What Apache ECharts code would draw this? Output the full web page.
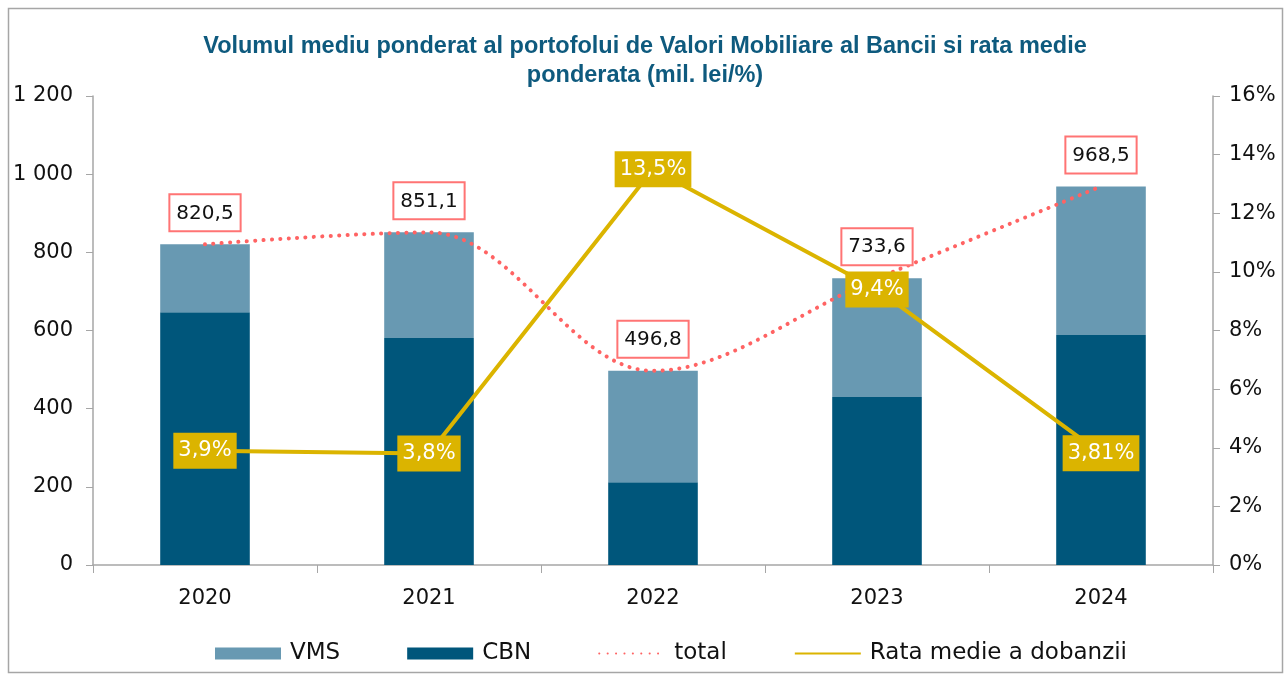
<!DOCTYPE html>
<html>
<head>
<meta charset="utf-8">
<script src="https://cdn.jsdelivr.net/npm/echarts@6/dist/echarts.min.js"></script>
<style>
  html, body { margin: 0; padding: 0; background: #fff; }
  #chart { width: 1287px; height: 677px; }
</style>
</head>
<body>
<div id="chart"></div>
<script>
var years = ['2020', '2021', '2022', '2023', '2024'];
var cbn = [647, 581, 212, 430, 588.5];
var vms = [173.5, 270.1, 284.8, 303.6, 380];
var total = [820.5, 851.1, 496.8, 733.6, 968.5];
var rate = [3.9, 3.8, 13.5, 9.4, 3.81];
var rateText = ['3,9%', '3,8%', '13,5%', '9,4%', '3,81%'];

var font = '"DejaVu Sans", "Noto Sans", sans-serif';
var chart = echarts.init(document.getElementById('chart'));

var option = {
    animation: false,
    backgroundColor: '#fff',
    textStyle: { fontFamily: font },
    title: {
        text: 'Volumul mediu ponderat al portofolui de Valori Mobiliare al Bancii si rata medie\nponderata (mil. lei/%)',
        left: 640,
        textAlign: 'center',
        top: 27,
        textStyle: {
            fontFamily: '"Liberation Sans", Arial, sans-serif',
            fontWeight: 'bold',
            fontSize: 23.5,
            lineHeight: 29,
            color: '#0E5A7E'
        }
    },
    grid: { left: 93, right: 74, top: 96, bottom: 112 },
    legend: {
        bottom: 7,
        left: 210,
        itemWidth: 66,
        itemHeight: 12,
        itemGap: 67,
        textStyle: { fontSize: 23, color: '#111', fontFamily: font, padding: [0, 0, 0, 4] },
        data: [
            { name: 'VMS', icon: 'rect' },
            { name: 'CBN', icon: 'rect' },
            { name: 'total', itemStyle: { opacity: 0 } },
            { name: 'Rata medie a dobanzii', itemStyle: { opacity: 0 } }
        ]
    },
    xAxis: {
        type: 'category',
        data: years,
        axisLine: { lineStyle: { color: '#A6A6A6', width: 1.5 } },
        axisTick: { show: true, length: 8, lineStyle: { color: '#A6A6A6' } },
        axisLabel: { fontSize: 21, color: '#111', margin: 23, fontFamily: font }
    },
    yAxis: [
        {
            type: 'value',
            min: 0, max: 1200, interval: 200,
            axisLine: { show: true, lineStyle: { color: '#A6A6A6', width: 1.5 } },
            axisTick: { show: true, length: 7, lineStyle: { color: '#A6A6A6' } },
            splitLine: { show: false },
            axisLabel: {
                fontSize: 21, color: '#111', margin: 20, fontFamily: font, padding: [5, 0, 0, 0],
                formatter: function (v) { return v >= 1000 ? '1 ' + String(v).slice(1) : String(v); }
            }
        },
        {
            type: 'value',
            min: 0, max: 16, interval: 2,
            position: 'right',
            axisLine: { show: true, lineStyle: { color: '#A6A6A6', width: 1.5 } },
            axisTick: { show: true, length: 7, lineStyle: { color: '#A6A6A6' } },
            splitLine: { show: false },
            axisLabel: { fontSize: 21, color: '#111', margin: 16, fontFamily: font, padding: [5, 0, 0, 0], formatter: '{value}%' }
        }
    ],
    series: [
        {
            name: 'CBN',
            type: 'bar',
            stack: 'vol',
            barWidth: '40%',
            itemStyle: { color: '#00567B' },
            data: cbn
        },
        {
            name: 'VMS',
            type: 'bar',
            stack: 'vol',
            barWidth: '40%',
            itemStyle: { color: '#6899B2' },
            data: vms
        },
        {
            name: 'total',
            type: 'line',
            smooth: 0.35,
            symbol: 'circle',
            symbolSize: 0,
            z: 5,
            itemStyle: { color: '#FF6363' },
            lineStyle: { color: '#FF6363', width: 4, type: [0.1, 8.3], cap: 'round' },
            label: {
                show: true,
                position: 'top',
                distance: 14,
                fontSize: 20,
                color: '#111',
                fontFamily: font,
                backgroundColor: '#fff',
                borderColor: '#FF7474',
                borderWidth: 2,
                padding: [8, 6, 7, 6],
                formatter: function (p) { return String(p.value).replace('.', ','); }
            },
            data: total
        },
        {
            name: 'Rata medie a dobanzii',
            type: 'line',
            yAxisIndex: 1,
            symbol: 'circle',
            symbolSize: 0,
            z: 6,
            itemStyle: { color: '#DBB400' },
            lineStyle: { color: '#DBB400', width: 4 },
            label: {
                show: true,
                position: 'inside',
                fontSize: 21,
                color: '#fff',
                fontFamily: font,
                backgroundColor: '#DBB400',
                padding: [8, 5, 7, 5],
                formatter: function (p) { return rateText[p.dataIndex]; }
            },
            data: rate
        }
    ],
    graphic: [
        {
            type: 'rect',
            shape: { x: 8.5, y: 8.5, width: 1274, height: 664 },
            style: { fill: 'none', stroke: '#A6A6A6', lineWidth: 1.5 },
            silent: true
        }
    ]
};

chart.setOption(option);
</script>
</body>
</html>
